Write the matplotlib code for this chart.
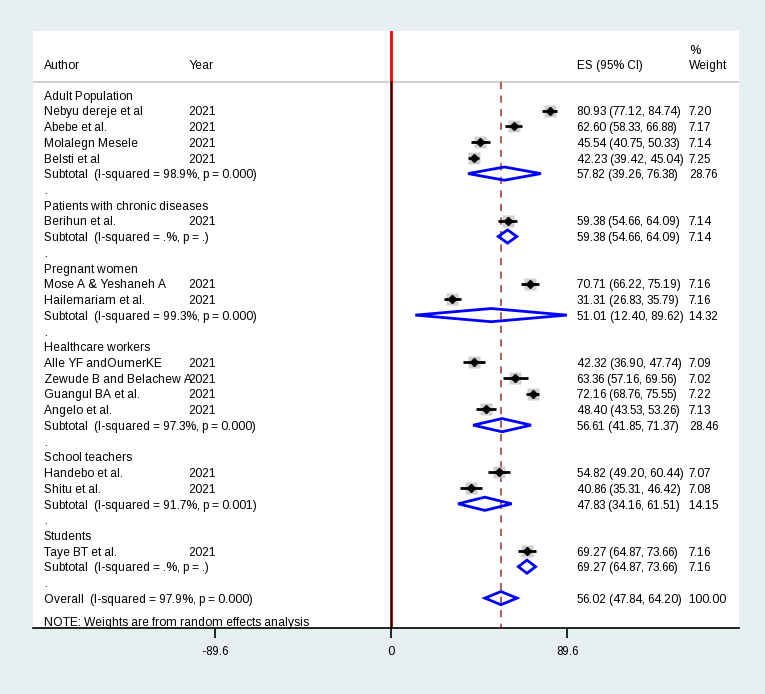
import matplotlib
matplotlib.use("Agg")
import matplotlib.pyplot as plt
from matplotlib.patches import Polygon

plt.rcParams['font.family'] = ['Liberation Sans', 'DejaVu Sans']
plt.rcParams['text.hinting'] = 'force_autohint'
plt.rcParams['text.hinting_factor'] = 1

### data ###
groups = ["Adult Population", "Patients with chronic diseases", "Pregnant women",
          "Healthcare workers", "School teachers", "Students"]
authors = [["Nebyu dereje et al", "Abebe et al.", "Molalegn Mesele", "Belsti et al"],
           ["Berihun et al."],
           ["Mose A & Yeshaneh A", "Hailemariam et al."],
           ["Alle YF andOumerKE", "Zewude B and Belachew A", "Guangul BA et al.", "Angelo et al."],
           ["Handebo et al.", "Shitu et al."],
           ["Taye BT et al."]]
years = [["2021"] * 4, ["2021"], ["2021"] * 2, ["2021"] * 4, ["2021"] * 2, ["2021"]]
es = [[80.93, 62.60, 45.54, 42.23], [59.38], [70.71, 31.31],
      [42.32, 63.36, 72.16, 48.40], [54.82, 40.86], [69.27]]
lo = [[77.12, 58.33, 40.75, 39.42], [54.66], [66.22, 26.83],
      [36.90, 57.16, 68.76, 43.53], [49.20, 35.31], [64.87]]
hi = [[84.74, 66.88, 50.33, 45.04], [64.09], [75.19, 35.79],
      [47.74, 69.56, 75.55, 53.26], [60.44, 46.42], [73.66]]
wt = [[7.20, 7.17, 7.14, 7.25], [7.14], [7.16, 7.16],
      [7.09, 7.02, 7.22, 7.13], [7.07, 7.08], [7.16]]
sub_es = [57.82, 59.38, 51.01, 56.61, 47.83, 69.27]
sub_lo = [39.26, 54.66, 12.40, 41.85, 34.16, 64.87]
sub_hi = [76.38, 64.09, 89.62, 71.37, 61.51, 73.66]
sub_wt = [28.76, 7.14, 14.32, 28.46, 14.15, 7.16]
sub_het = ["98.9%, p = 0.000", ".%, p = .", "99.3%, p = 0.000",
           "97.3%, p = 0.000", "91.7%, p = 0.001", ".%, p = ."]
overall = (56.02, 47.84, 64.20, 100.00)
overall_het = "97.9%, p = 0.000"
xticks = [-89.6, 0, 89.6]

BG = '#e8eff3'
BLUE = '#0000ff'
FS = 8.4

fig = plt.figure(figsize=(7.65, 6.94), dpi=100, facecolor=BG)
W, H = 765, 694
ax = fig.add_axes([33 / W, (H - 628) / H, (739 - 33) / W, (628 - 31) / H])
ax.set_facecolor('white')
ax.set_xlim(-182.4, 177.3)
ax.set_ylim(33.9, -4.07)

tr = ax.get_yaxis_transform()
col_author, col_year, col_es, col_wt = 0.0156, 0.2195, 0.7705, 0.929

def txt(x, y, s, **kw):
    # baseline sits a bit under the row centre so every column lines up
    ax.text(x, y + 0.3, s, transform=tr, fontsize=FS, va='baseline', ha='left', **kw)

def diamond(e, l, h, y):
    ax.add_patch(Polygon([(l, y), (e, y - 0.42), (h, y), (e, y + 0.42)], closed=True,
                         facecolor='none', edgecolor=BLUE, lw=2, zorder=4))

# header
txt(col_author, -1.97, "Author")
txt(col_year, -1.97, "Year")
txt(col_es, -1.97, "ES (95% CI)")
txt(col_wt, -2.93, "%")
txt(col_wt, -1.97, "Weight")
ax.axhline(-0.83, color='#c8c8c8', lw=1.2, zorder=2)

row = 0
for g in range(len(groups)):
    txt(col_author, row, groups[g])
    row += 1
    for i in range(len(authors[g])):
        txt(col_author, row, authors[g][i])
        txt(col_year, row, years[g][i])
        txt(col_es, row, "%.2f (%.2f, %.2f)" % (es[g][i], lo[g][i], hi[g][i]))
        txt(col_wt, row, "%.2f" % wt[g][i])
        ax.plot(es[g][i], row, marker='s', ms=wt[g][i] * 1.25, color='#c4c4c4',
                mec='none', alpha=0.8, zorder=3)
        ax.plot([lo[g][i], hi[g][i]], [row, row], color='black', lw=2, zorder=4,
                solid_capstyle='butt')
        ax.plot(es[g][i], row, marker='D', ms=4.5, color='black', zorder=5)
        row += 1
    txt(col_author, row, "Subtotal  (I-squared = %s)" % sub_het[g])
    txt(col_es, row, "%.2f (%.2f, %.2f)" % (sub_es[g], sub_lo[g], sub_hi[g]))
    txt(col_wt, row, "%.2f" % sub_wt[g])
    diamond(sub_es[g], sub_lo[g], sub_hi[g], row)
    row += 1
    txt(col_author, row, ".")
    row += 1

txt(col_author, row, "Overall  (I-squared = %s)" % overall_het)
txt(col_es, row, "%.2f (%.2f, %.2f)" % overall[:3])
txt(col_wt, row, "%.2f" % overall[3])
diamond(overall[0], overall[1], overall[2], row)
txt(col_author, row + 1.5, "NOTE: Weights are from random effects analysis")

# reference lines
ax.plot([0, 0], [-4.07, -0.83], color='red', lw=2, zorder=2)
ax.plot([0, 0], [-0.83, 33.9], color='#c00000', lw=2, zorder=2)
ax.plot([0, 0], [-0.83, 33.9], color='black', lw=0.9, zorder=2)
ax.plot([overall[0]] * 2, [-0.83, 33.9], color='#a8524f', lw=1.3,
        dashes=(4, 3.5), zorder=2)

for s in ['top', 'left', 'right']:
    ax.spines[s].set_visible(False)
ax.spines['bottom'].set_linewidth(1.2)
ax.set_yticks([])
ax.set_xticks(xticks)
ax.set_xticklabels(["%g" % t for t in xticks], fontsize=FS)
ax.tick_params(axis='x', direction='out', length=7, width=1.2, pad=6)

fig.savefig("out.png", dpi=100, facecolor=BG)
